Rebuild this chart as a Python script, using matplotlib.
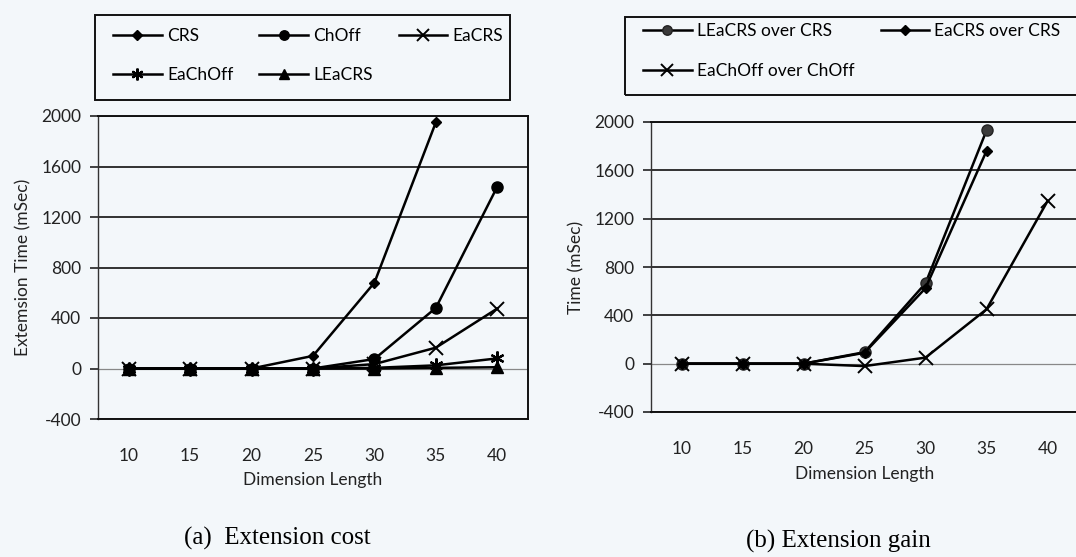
import numpy as np
import matplotlib
matplotlib.use('Agg')
import matplotlib.pyplot as plt
from matplotlib.patches import Rectangle

# data
dims = ['10', '15', '20', '25', '30', '35', '40']

crs = [0, 0, 0, 100, 680, 1950, np.nan]
choff = [0, 0, 0, 0, 75, 480, 1440]
eacrs = [0, 0, 0, 0, 35, 165, 475]
eachoff = [0, 0, 0, 0, 5, 25, 80]
leacrs = [0, 0, 0, 0, 0, 5, 10]

leacrs_gain = [0, 0, 0, 95, 665, 1930, np.nan]
eacrs_gain = [0, 0, 0, 90, 625, 1760, np.nan]
eachoff_gain = [0, 0, 0, -20, 50, 450, 1345]

yticks = [-400, 0, 400, 800, 1200, 1600, 2000]

BG = '#f3f7fa'
SANS = 'Lato'
SERIF = 'Liberation Serif'
plt.rcParams['font.family'] = SANS
plt.rcParams['axes.unicode_minus'] = False
FS = 12.5


def style_axes(ax, ylabel):
    ax.set_facecolor(BG)
    ax.set_xlim(-0.5, len(dims) - 0.5)
    ax.set_ylim(-400, 2000)
    ax.set_yticks(yticks)
    ax.set_xticks(range(len(dims)))
    ax.set_xticklabels(dims)
    ax.tick_params(axis='x', length=0, pad=21, labelsize=FS, colors='#222222')
    ax.tick_params(axis='y', length=6, width=1.2, direction='out', pad=6,
                   labelsize=FS, colors='#222222', color='#222222')
    ax.grid(axis='y', color='#222222', linewidth=1.3)
    for g, v in zip(ax.get_ygridlines(), yticks):
        if v == 0:
            g.set_color('#888888')
            g.set_linewidth(0.9)
    ax.set_axisbelow(True)
    for side in ['top', 'right', 'bottom']:
        ax.spines[side].set_color('#111111')
        ax.spines[side].set_linewidth(1.4)
    ax.spines['left'].set_color('#333333')
    ax.spines['left'].set_linewidth(1.0)
    ax.set_xlabel('Dimension Length', fontsize=FS, labelpad=6, color='#222222')
    ax.set_ylabel(ylabel, fontsize=FS, labelpad=7, color='#222222')


fig = plt.figure(figsize=(10.76, 5.57), dpi=100, facecolor=BG)

ax1 = fig.add_axes([98 / 1076, 1 - 419 / 557, 430 / 1076, 303 / 557])
ax2 = fig.add_axes([651 / 1076, 1 - 412 / 557, 427 / 1076, 290 / 557])

x = np.arange(len(dims))
kw = dict(color='black', linewidth=1.8)
l_crs, = ax1.plot(x, crs, marker='D', markersize=5.5, label='CRS', **kw)
l_choff, = ax1.plot(x, choff, marker='o', markersize=8, label='ChOff', **kw)
l_eacrs, = ax1.plot(x, eacrs, marker='x', markersize=10, markeredgewidth=1.4, label='EaCRS', **kw)
l_eachoff, = ax1.plot(x, eachoff, marker=(6, 2, 0), markersize=10, markeredgewidth=1.6,
                      label='EaChOff', **kw)
l_leacrs, = ax1.plot(x, leacrs, marker='^', markersize=8, label='LEaCRS', **kw)
style_axes(ax1, 'Extemsion Time (mSec)')

g_le, = ax2.plot(x, leacrs_gain, marker='o', markersize=8, markerfacecolor='#3a3a3a',
                 markeredgecolor='#222222', label='LEaCRS over CRS', **kw)
g_ea, = ax2.plot(x, eacrs_gain, marker='D', markersize=5.5, label='EaCRS over CRS', **kw)
g_ec, = ax2.plot(x, eachoff_gain, marker='x', markersize=10, markeredgewidth=1.4,
                 label='EaChOff over ChOff', **kw)
style_axes(ax2, 'Time (mSec)')

# legend boxes above each panel
fig.patches.append(Rectangle((95 / 1076, 1 - 100 / 557), 415 / 1076, 85 / 557,
                             transform=fig.transFigure, fill=False,
                             edgecolor='#111111', linewidth=1.4))
fig.patches.append(Rectangle((625 / 1076, 1 - 95 / 557), 460 / 1076, 78 / 557,
                             transform=fig.transFigure, fill=False,
                             edgecolor='#111111', linewidth=1.4))

# column-major order so the rows read like the original
h1 = [l_crs, l_eachoff, l_choff, l_leacrs, l_eacrs]
fig.legend(h1, [h.get_label() for h in h1], ncol=3, frameon=False, loc='upper left',
           bbox_to_anchor=(101 / 1076, 1 - 16 / 557), fontsize=FS,
           handlelength=2.8, handletextpad=0.3, columnspacing=1.5,
           labelspacing=1.3, borderpad=0.2, markerscale=0.85)
h2 = [g_le, g_ec, g_ea]
fig.legend(h2, [h.get_label() for h in h2], ncol=2, frameon=False, loc='upper left',
           bbox_to_anchor=(631 / 1076, 1 - 11 / 557), fontsize=FS,
           handlelength=2.8, handletextpad=0.3, columnspacing=1.5,
           labelspacing=1.4, borderpad=0.2, markerscale=0.85)

fig.text(277 / 1076, 1 - 538 / 557, '(a)  Extension cost', family=SERIF,
         fontsize=18, ha='center', va='center')
fig.text(838 / 1076, 1 - 541 / 557, '(b) Extension gain', family=SERIF,
         fontsize=18, ha='center', va='center')

fig.savefig('out.png', dpi=100, facecolor=BG)
